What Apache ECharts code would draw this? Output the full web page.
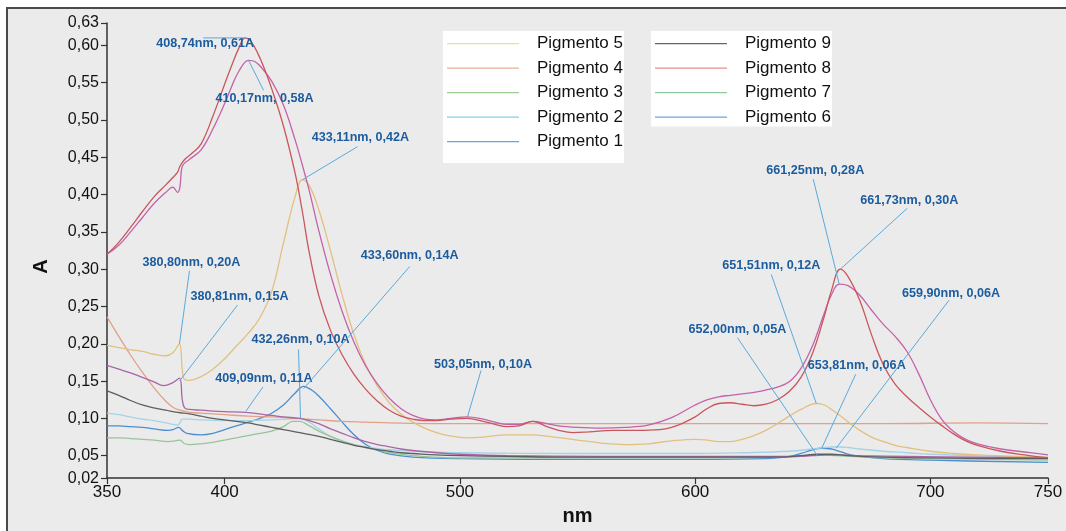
<!DOCTYPE html>
<html>
<head>
<meta charset="utf-8">
<script src="https://cdn.jsdelivr.net/npm/echarts@6/dist/echarts.min.js"></script>
<style>
  html, body { margin: 0; padding: 0; background: #ffffff; }
  #chart { width: 1066px; height: 531px; }
</style>
</head>
<body>
<div id="chart"></div>
<script>
// Absorption spectra, wavelength (nm) vs absorbance (A)
const wavelengthTicks = [350, 400, 500, 600, 700, 750];
const absorbanceTicks = [0.02, 0.05, 0.10, 0.15, 0.20, 0.25, 0.30, 0.35, 0.40, 0.45, 0.50, 0.55, 0.60, 0.63];

const pigmento1 = [[350,0.09],[355,0.09],[360,0.089],[365,0.088],[370,0.086],[376,0.084],[378,0.085],[380.5,0.088],[382,0.084],[384,0.08],[390,0.078],[395,0.08],[400,0.085],[405,0.09],[410,0.095],[415,0.1],[420,0.107],[425,0.118],[430,0.134],[433.6,0.143],[437,0.138],[440,0.13],[445,0.113],[450,0.095],[455,0.078],[460,0.065],[465,0.057],[470,0.052],[480,0.048],[500,0.046],[550,0.045],[600,0.045],[630,0.046],[640,0.049],[645,0.053],[650,0.058],[653.81,0.06],[658,0.059],[662,0.055],[668,0.05],[680,0.046],[700,0.044],[750,0.041]];
const pigmento2 = [[350,0.107],[355,0.105],[360,0.102],[365,0.099],[370,0.097],[375,0.094],[378,0.092],[380,0.091],[381,0.094],[382,0.099],[385,0.099],[390,0.098],[400,0.097],[410,0.097],[420,0.098],[426,0.099],[432.26,0.1],[436,0.095],[440,0.086],[445,0.076],[450,0.069],[455,0.065],[460,0.062],[470,0.058],[480,0.056],[490,0.055],[500,0.054],[550,0.053],[600,0.053],[620,0.054],[640,0.056],[650,0.059],[655,0.061],[659.9,0.062],[665,0.061],[670,0.059],[680,0.056],[690,0.054],[700,0.052],[720,0.05],[750,0.048]];
const pigmento3 = [[350,0.074],[355,0.074],[360,0.073],[365,0.072],[370,0.071],[376,0.069],[379,0.07],[381,0.071],[383,0.066],[385,0.065],[390,0.066],[395,0.068],[400,0.071],[405,0.074],[410,0.077],[415,0.08],[420,0.083],[425,0.089],[429,0.096],[432,0.096],[436,0.09],[440,0.083],[445,0.076],[450,0.07],[455,0.065],[460,0.061],[470,0.054],[480,0.05],[490,0.048],[500,0.047],[550,0.047],[600,0.047],[640,0.048],[652,0.051],[660,0.05],[680,0.047],[700,0.046],[750,0.044]];
const pigmento4 = [[350,0.236],[355,0.21],[360,0.185],[365,0.162],[370,0.141],[375,0.123],[378,0.115],[381,0.111],[385,0.108],[390,0.107],[400,0.105],[410,0.103],[420,0.102],[430,0.1],[440,0.098],[450,0.096],[460,0.095],[470,0.094],[490,0.093],[520,0.093],[560,0.093],[600,0.093],[640,0.093],[680,0.093],[720,0.094],[750,0.093]];
const pigmento5 = [[350,0.198],[355,0.195],[360,0.192],[365,0.19],[370,0.186],[375,0.184],[378,0.188],[380.8,0.2],[382,0.165],[383,0.152],[385,0.151],[390,0.156],[395,0.166],[400,0.18],[405,0.197],[410,0.214],[415,0.235],[420,0.27],[425,0.335],[430,0.398],[433.11,0.42],[436,0.412],[440,0.38],[445,0.325],[450,0.265],[455,0.212],[460,0.172],[465,0.143],[470,0.121],[475,0.106],[480,0.095],[485,0.087],[490,0.081],[495,0.077],[503,0.074],[510,0.075],[520,0.078],[530,0.078],[540,0.075],[550,0.071],[560,0.067],[570,0.065],[580,0.066],[590,0.07],[600,0.072],[605,0.071],[610,0.069],[615,0.069],[620,0.072],[625,0.077],[630,0.084],[635,0.093],[640,0.103],[645,0.112],[651.51,0.12],[655,0.118],[658,0.112],[662,0.103],[666,0.093],[670,0.084],[675,0.075],[680,0.069],[685,0.064],[690,0.061],[700,0.056],[710,0.053],[720,0.051],[735,0.049],[750,0.048]];
const pigmento6 = [[350,0.32],[355,0.332],[360,0.35],[365,0.369],[370,0.388],[375,0.403],[378,0.41],[380,0.403],[381,0.41],[382,0.438],[385,0.447],[390,0.46],[395,0.488],[400,0.522],[403,0.545],[406,0.565],[410.17,0.58],[413,0.578],[416,0.569],[420,0.552],[425,0.52],[430,0.473],[433,0.44],[436,0.405],[440,0.352],[445,0.293],[450,0.243],[455,0.202],[460,0.17],[465,0.146],[470,0.127],[475,0.113],[480,0.104],[485,0.099],[490,0.098],[496,0.1],[503,0.102],[510,0.099],[515,0.095],[520,0.092],[525,0.092],[531,0.096],[537,0.093],[542,0.09],[550,0.088],[560,0.087],[570,0.088],[580,0.091],[590,0.101],[600,0.118],[605,0.125],[610,0.129],[615,0.131],[620,0.133],[625,0.135],[630,0.138],[635,0.142],[640,0.149],[645,0.167],[650,0.198],[655,0.242],[658,0.266],[661.25,0.28],[665,0.278],[670,0.265],[675,0.245],[680,0.226],[685,0.21],[690,0.19],[695,0.16],[700,0.125],[705,0.098],[710,0.082],[715,0.072],[720,0.066],[730,0.059],[740,0.055],[750,0.051]];
const pigmento7 = [[350,0.171],[355,0.166],[360,0.161],[365,0.155],[370,0.149],[374,0.144],[378,0.148],[380.81,0.154],[382,0.125],[383,0.114],[385,0.112],[390,0.111],[400,0.109],[409.09,0.108],[420,0.104],[425,0.102],[432,0.1],[436,0.097],[440,0.093],[445,0.086],[450,0.08],[455,0.074],[460,0.069],[465,0.065],[470,0.062],[475,0.059],[480,0.057],[490,0.054],[500,0.052],[520,0.05],[560,0.049],[600,0.049],[640,0.049],[650,0.05],[656,0.051],[662,0.051],[670,0.05],[690,0.049],[720,0.048],[750,0.047]];
const pigmento8 = [[350,0.32],[355,0.336],[360,0.356],[365,0.377],[370,0.397],[375,0.413],[378,0.423],[380,0.43],[381,0.438],[383,0.447],[386,0.455],[390,0.468],[395,0.505],[400,0.548],[403,0.573],[406,0.596],[408.74,0.61],[411,0.606],[414,0.59],[417,0.568],[420,0.542],[425,0.492],[430,0.428],[433,0.378],[436,0.322],[440,0.265],[445,0.218],[450,0.185],[455,0.159],[460,0.139],[465,0.123],[470,0.111],[475,0.103],[480,0.099],[485,0.097],[490,0.097],[496,0.099],[503,0.1],[510,0.096],[515,0.092],[520,0.089],[525,0.09],[531,0.096],[537,0.089],[542,0.084],[548,0.081],[555,0.082],[565,0.084],[575,0.084],[585,0.085],[590,0.088],[595,0.094],[600,0.102],[605,0.113],[610,0.12],[615,0.121],[620,0.119],[625,0.117],[630,0.119],[635,0.125],[640,0.136],[645,0.155],[650,0.188],[655,0.238],[658,0.272],[661.73,0.3],[665,0.29],[670,0.258],[675,0.212],[680,0.172],[685,0.146],[690,0.129],[695,0.115],[700,0.102],[705,0.09],[710,0.079],[715,0.07],[720,0.064],[730,0.056],[740,0.051],[750,0.047]];
const pigmento9 = [[350,0.137],[355,0.131],[360,0.124],[365,0.118],[370,0.114],[375,0.111],[380,0.108],[385,0.106],[390,0.103],[395,0.1],[400,0.098],[405,0.096],[410,0.094],[415,0.091],[420,0.088],[425,0.085],[430,0.082],[435,0.079],[440,0.076],[445,0.072],[450,0.068],[455,0.064],[460,0.061],[465,0.058],[470,0.056],[475,0.054],[480,0.053],[490,0.051],[500,0.05],[520,0.049],[550,0.048],[600,0.048],[635,0.048],[645,0.05],[652,0.052],[658,0.052],[665,0.05],[680,0.048],[700,0.047],[750,0.046]];

// Peak annotations: wavelength and absorbance
const noteWavelength = [408.74, 410.17, 433.11, 380.80, 380.81, 432.26, 409.09, 433.60, 503.05, 661.25, 661.73, 651.51, 652.00, 653.81, 659.90];
const noteAbsorbance = [0.61, 0.58, 0.42, 0.20, 0.15, 0.10, 0.11, 0.14, 0.10, 0.28, 0.30, 0.12, 0.05, 0.06, 0.06];
// Pixel offsets from each peak: label centre (dx, dy), leader end (dx, dy)
const noteLayout = [
  [-40, 6, -42, 0],
  [16, 38, 15, 30],
  [58, -42, 55, -33],
  [12, -81, 10, -73],
  [60, -85, 58, -76],
  [0, -79, -2, -69],
  [18, -32, 17, -24],
  [106, -133, 106, -122],
  [16, -54, 14, -48],
  [-24, -114, -26, -105],
  [69, -69, 67, -61],
  [-45, -138, -45, -129],
  [-80, -126, -80, -118],
  [35, -83, 34, -74],
  [115, -155, 113, -148]
];

const FONT = '"Liberation Sans", Arial, sans-serif';
const comma = (v, d) => v.toFixed(d).replace('.', ',');
// thin horizontal key line centred in a 72x17 box
const KEY_ICON = 'path://M0,0H0.01V0.01H0Z M0,7.9H72V9.2H0Z M0,17H0.01V17.01H0Z';

const seriesDefs = [
  { name: 'Pigmento 1', data: pigmento1, line: '#4a8fd0', key: '#6aa4dc' },
  { name: 'Pigmento 2', data: pigmento2, line: '#a6d2e6', key: '#80d0ec' },
  { name: 'Pigmento 3', data: pigmento3, line: '#98c498', key: '#9ccc94' },
  { name: 'Pigmento 4', data: pigmento4, line: '#e2a088', key: '#eab098' },
  { name: 'Pigmento 5', data: pigmento5, line: '#e2c07e', key: '#e6e48c' },
  { name: 'Pigmento 6', data: pigmento6, line: '#c462aa', key: '#6aa4dc' },
  { name: 'Pigmento 7', data: pigmento7, line: '#a866a6', key: '#90c8a0' },
  { name: 'Pigmento 8', data: pigmento8, line: '#c9565c', key: '#e88e8e' },
  { name: 'Pigmento 9', data: pigmento9, line: '#5e5e5e', key: '#666666' }
];
const keyColor = Object.fromEntries(seriesDefs.map(s => [s.name, s.key]));
const legendEntry = name => ({ name, icon: KEY_ICON, itemStyle: { color: keyColor[name], borderWidth: 0 } });

const lineSeries = seriesDefs.map(s => ({
  name: s.name,
  type: 'line',
  data: s.data,
  symbol: 'none',
  smooth: 0.4,
  lineStyle: { color: s.line, width: 1.3 },
  itemStyle: { color: s.line },
  z: 3,
  silent: true
}));

const noteSeries = {
  type: 'custom',
  name: 'notes',
  clip: false,
  silent: true,
  z: 10,
  data: noteWavelength.map((w, i) => [w, noteAbsorbance[i]]),
  renderItem: function (params, api) {
    const p = api.coord([api.value(0), api.value(1)]);
    const lay = noteLayout[params.dataIndex];
    const txt = comma(noteWavelength[params.dataIndex], 2) + 'nm, ' + comma(noteAbsorbance[params.dataIndex], 2) + 'A';
    return {
      type: 'group',
      children: [
        {
          type: 'line',
          shape: { x1: p[0], y1: p[1], x2: p[0] + lay[2], y2: p[1] + lay[3] },
          style: { stroke: '#5aa9dc', lineWidth: 1 }
        },
        {
          type: 'text',
          style: {
            text: txt,
            x: p[0] + lay[0],
            y: p[1] + lay[1],
            align: 'center',
            verticalAlign: 'middle',
            fill: '#1b5b9e',
            font: 'bold 12.6px ' + FONT
          }
        }
      ]
    };
  }
};

const legendBase = {
  orient: 'vertical',
  backgroundColor: '#ffffff',
  itemWidth: 72, itemHeight: 17, itemGap: 7.5,
  itemStyle: { borderWidth: 0 },
  textStyle: { fontSize: 17, color: '#111111', fontFamily: FONT, padding: [0, 0, 0, 13] },
  selectedMode: false
};

const chart = echarts.init(document.getElementById('chart'), null, { renderer: 'canvas' });
chart.setOption({
  animation: false,
  backgroundColor: '#ffffff',
  textStyle: { fontFamily: FONT },
  graphic: [{
    type: 'rect',
    z: -1,
    silent: true,
    shape: { x: 7, y: 8, width: 1070, height: 540 },
    style: { fill: '#ebebeb', stroke: '#4a4a4a', lineWidth: 2 }
  }],
  grid: { left: 107, right: 18, top: 23, bottom: 50, containLabel: false },
  legend: [
    Object.assign({}, legendBase, {
      left: 443, top: 31, padding: [4, 1, 13, 4],
      data: ['Pigmento 5', 'Pigmento 4', 'Pigmento 3', 'Pigmento 2', 'Pigmento 1'].map(legendEntry)
    }),
    Object.assign({}, legendBase, {
      left: 651, top: 31, padding: [4, 1, 1, 4],
      data: ['Pigmento 9', 'Pigmento 8', 'Pigmento 7', 'Pigmento 6'].map(legendEntry)
    })
  ],
  xAxis: {
    type: 'value',
    min: 350, max: 750,
    name: 'nm',
    nameLocation: 'middle',
    nameGap: 21,
    nameTextStyle: { fontSize: 20, fontWeight: 'bold', color: '#111111', fontFamily: FONT },
    axisLine: { show: true, onZero: false, lineStyle: { color: '#333333', width: 1.5 } },
    axisTick: { show: true, length: 6, lineStyle: { color: '#333333', width: 1.2 }, customValues: wavelengthTicks },
    axisLabel: { fontSize: 17, color: '#111111', margin: 6, customValues: wavelengthTicks, formatter: v => String(v) },
    splitLine: { show: false }
  },
  yAxis: {
    type: 'value',
    min: 0.02, max: 0.63,
    name: 'A',
    nameLocation: 'middle',
    nameGap: 56,
    nameRotate: 90,
    nameTextStyle: { fontSize: 20, fontWeight: 'bold', color: '#111111', fontFamily: FONT, padding: [0, 32, 0, 0] },
    axisLine: { show: true, onZero: false, lineStyle: { color: '#333333', width: 1.5 } },
    axisTick: { show: true, length: 6, lineStyle: { color: '#333333', width: 1.2 }, customValues: absorbanceTicks },
    axisLabel: { fontSize: 16, color: '#111111', margin: 8, customValues: absorbanceTicks, formatter: v => comma(v, 2) },
    splitLine: { show: false }
  },
  series: lineSeries.concat([noteSeries])
});
</script>
</body>
</html>
